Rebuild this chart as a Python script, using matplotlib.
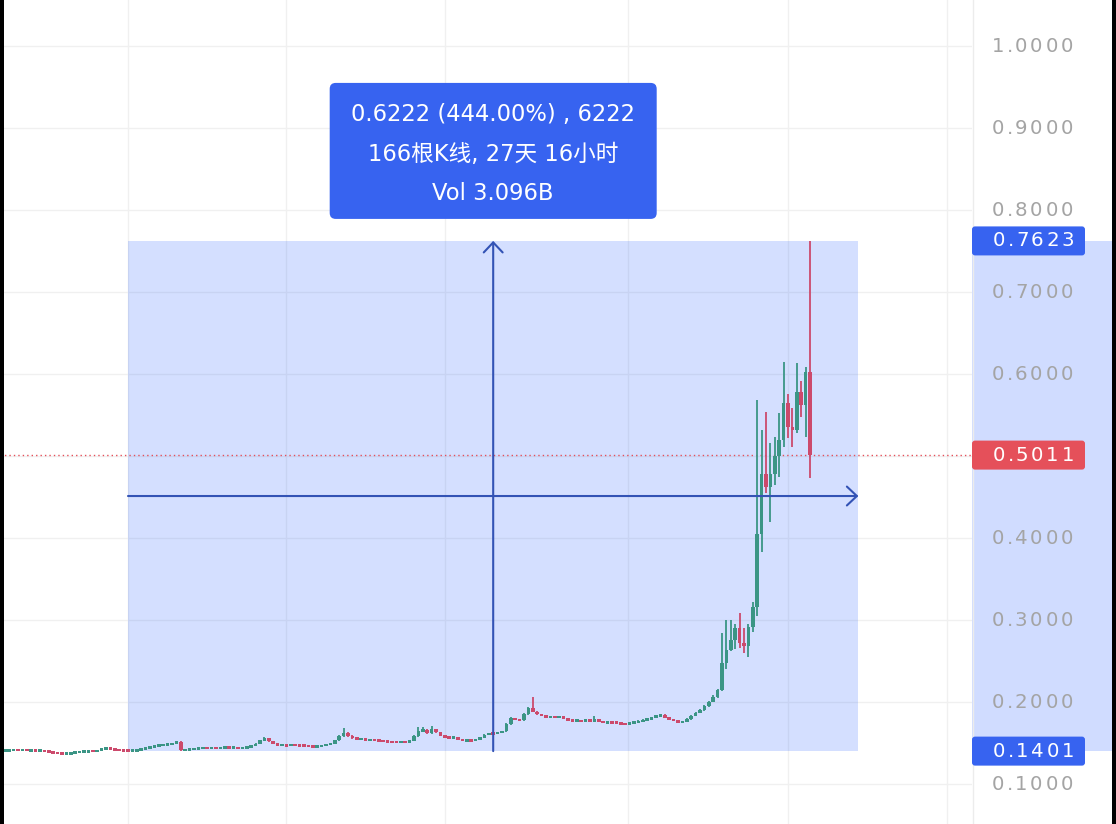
import matplotlib
matplotlib.use("Agg")
import matplotlib.pyplot as plt
from matplotlib.patches import Rectangle, FancyBboxPatch
import numpy as np

# ---------------- data: 4h candles ----------------
opens = [
    0.1408, 0.1410, 0.1413, 0.1416, 0.1411, 0.1419, 0.1408, 0.1410, 0.1405, 0.1408,
    0.1399, 0.1390, 0.1381, 0.1372, 0.1366, 0.1372, 0.1379, 0.1388, 0.1394, 0.1398,
    0.1402, 0.1400, 0.1409, 0.1429, 0.1441, 0.1426, 0.1418, 0.1411, 0.1407, 0.1404,
    0.1406, 0.1414, 0.1426, 0.1439, 0.1451, 0.1462, 0.1470, 0.1479, 0.1486, 0.1491,
    0.1515, 0.1412, 0.1421, 0.1426, 0.1431, 0.1438, 0.1441, 0.1436, 0.1441, 0.1435,
    0.1440, 0.1446, 0.1440, 0.1443, 0.1436, 0.1445, 0.1451, 0.1463, 0.1491, 0.1531,
    0.1556, 0.1521, 0.1491, 0.1471, 0.1476, 0.1470, 0.1478, 0.1472, 0.1468, 0.1465,
    0.1462, 0.1458, 0.1461, 0.1469, 0.1479, 0.1492, 0.1531, 0.1582, 0.1621, 0.1586,
    0.1561, 0.1546, 0.1549, 0.1536, 0.1541, 0.1531, 0.1528, 0.1521, 0.1516, 0.1512,
    0.1508, 0.1515, 0.1510, 0.1526, 0.1581, 0.1641, 0.1661, 0.1621, 0.1666, 0.1631,
    0.1591, 0.1571, 0.1561, 0.1566, 0.1541, 0.1531, 0.1536, 0.1532, 0.1546, 0.1566,
    0.1601, 0.1616, 0.1611, 0.1631, 0.1641, 0.1731, 0.1801, 0.1786, 0.1776, 0.1851,
    0.1921, 0.1881, 0.1851, 0.1831, 0.1816, 0.1821, 0.1812, 0.1821, 0.1796, 0.1781,
    0.1771, 0.1773, 0.1768, 0.1776, 0.1770, 0.1786, 0.1766, 0.1751, 0.1753, 0.1748,
    0.1745, 0.1736, 0.1731, 0.1746, 0.1753, 0.1761, 0.1776, 0.1791, 0.1806, 0.1836,
    0.1841, 0.1811, 0.1791, 0.1771, 0.1751, 0.1761, 0.1791, 0.1831, 0.1871, 0.1901,
    0.1951, 0.2001, 0.2061, 0.2141, 0.2471, 0.2631, 0.2761, 0.2901, 0.2721, 0.2681,
    0.2911, 0.3161, 0.4051, 0.4781, 0.4621, 0.4781, 0.5001, 0.5201, 0.5651, 0.5351,
    0.5321, 0.5781, 0.5621, 0.6021,
]
highs = [
    0.1418, 0.1420, 0.1424, 0.1421, 0.1430, 0.1423, 0.1417, 0.1414, 0.1415, 0.1412,
    0.1404, 0.1395, 0.1387, 0.1378, 0.1379, 0.1386, 0.1394, 0.1400, 0.1404, 0.1409,
    0.1408, 0.1416, 0.1440, 0.1452, 0.1446, 0.1430, 0.1422, 0.1415, 0.1412, 0.1413,
    0.1420, 0.1432, 0.1445, 0.1458, 0.1470, 0.1478, 0.1488, 0.1494, 0.1500, 0.1524,
    0.1520, 0.1428, 0.1433, 0.1438, 0.1444, 0.1448, 0.1446, 0.1447, 0.1445, 0.1446,
    0.1453, 0.1450, 0.1449, 0.1447, 0.1451, 0.1458, 0.1470, 0.1500, 0.1542, 0.1572,
    0.1561, 0.1526, 0.1496, 0.1483, 0.1481, 0.1485, 0.1482, 0.1478, 0.1473, 0.1470,
    0.1467, 0.1467, 0.1475, 0.1486, 0.1500, 0.1542, 0.1600, 0.1680, 0.1630, 0.1592,
    0.1567, 0.1556, 0.1553, 0.1548, 0.1545, 0.1536, 0.1533, 0.1526, 0.1521, 0.1517,
    0.1521, 0.1519, 0.1533, 0.1600, 0.1690, 0.1700, 0.1672, 0.1702, 0.1675, 0.1638,
    0.1597, 0.1577, 0.1574, 0.1570, 0.1546, 0.1543, 0.1541, 0.1552, 0.1574, 0.1612,
    0.1625, 0.1622, 0.1640, 0.1652, 0.1745, 0.1815, 0.1808, 0.1792, 0.1862, 0.1935,
    0.2065, 0.1890, 0.1858, 0.1838, 0.1828, 0.1826, 0.1828, 0.1825, 0.1801, 0.1786,
    0.1779, 0.1777, 0.1782, 0.1780, 0.1825, 0.1790, 0.1771, 0.1759, 0.1757, 0.1753,
    0.1750, 0.1741, 0.1753, 0.1762, 0.1775, 0.1788, 0.1800, 0.1815, 0.1845, 0.1852,
    0.1848, 0.1817, 0.1797, 0.1776, 0.1768, 0.1800, 0.1840, 0.1882, 0.1912, 0.1962,
    0.2015, 0.2080, 0.2160, 0.2840, 0.3000, 0.3000, 0.2950, 0.3085, 0.2900, 0.2950,
    0.3220, 0.5680, 0.5320, 0.5540, 0.5160, 0.5230, 0.5520, 0.6150, 0.5760, 0.5590,
    0.6130, 0.5920, 0.6080, 0.7623,
]
lows = [
    0.1402, 0.1405, 0.1408, 0.1404, 0.1406, 0.1401, 0.1402, 0.1398, 0.1400, 0.1392,
    0.1384, 0.1375, 0.1366, 0.1359, 0.1361, 0.1367, 0.1374, 0.1383, 0.1389, 0.1393,
    0.1394, 0.1396, 0.1405, 0.1424, 0.1420, 0.1412, 0.1406, 0.1402, 0.1401, 0.1401,
    0.1403, 0.1410, 0.1421, 0.1434, 0.1446, 0.1457, 0.1465, 0.1474, 0.1480, 0.1486,
    0.1402, 0.1406, 0.1415, 0.1420, 0.1426, 0.1433, 0.1430, 0.1431, 0.1429, 0.1430,
    0.1435, 0.1434, 0.1435, 0.1430, 0.1431, 0.1440, 0.1446, 0.1458, 0.1486, 0.1524,
    0.1514, 0.1485, 0.1465, 0.1466, 0.1464, 0.1465, 0.1466, 0.1462, 0.1459, 0.1456,
    0.1452, 0.1453, 0.1456, 0.1464, 0.1474, 0.1487, 0.1525, 0.1575, 0.1578, 0.1554,
    0.1540, 0.1540, 0.1530, 0.1531, 0.1525, 0.1522, 0.1515, 0.1510, 0.1506, 0.1502,
    0.1503, 0.1504, 0.1505, 0.1520, 0.1575, 0.1634, 0.1612, 0.1615, 0.1622, 0.1584,
    0.1564, 0.1554, 0.1555, 0.1534, 0.1524, 0.1526, 0.1526, 0.1527, 0.1541, 0.1561,
    0.1594, 0.1604, 0.1605, 0.1624, 0.1636, 0.1724, 0.1778, 0.1768, 0.1771, 0.1845,
    0.1872, 0.1843, 0.1824, 0.1808, 0.1810, 0.1805, 0.1806, 0.1789, 0.1775, 0.1765,
    0.1765, 0.1762, 0.1763, 0.1764, 0.1765, 0.1760, 0.1745, 0.1745, 0.1742, 0.1739,
    0.1729, 0.1724, 0.1726, 0.1740, 0.1748, 0.1755, 0.1770, 0.1785, 0.1800, 0.1830,
    0.1804, 0.1784, 0.1764, 0.1744, 0.1745, 0.1756, 0.1785, 0.1825, 0.1864, 0.1895,
    0.1944, 0.1995, 0.2054, 0.2130, 0.2400, 0.2620, 0.2650, 0.2660, 0.2600, 0.2550,
    0.2850, 0.3050, 0.3830, 0.4550, 0.4200, 0.4650, 0.4740, 0.5110, 0.5220, 0.5110,
    0.5280, 0.5480, 0.5230, 0.4730,
]
closes = [
    0.1410, 0.1413, 0.1416, 0.1411, 0.1419, 0.1408, 0.1410, 0.1405, 0.1408, 0.1399,
    0.1390, 0.1381, 0.1372, 0.1366, 0.1372, 0.1379, 0.1388, 0.1394, 0.1398, 0.1402,
    0.1400, 0.1409, 0.1429, 0.1441, 0.1426, 0.1418, 0.1411, 0.1407, 0.1404, 0.1406,
    0.1414, 0.1426, 0.1439, 0.1451, 0.1462, 0.1470, 0.1479, 0.1486, 0.1491, 0.1515,
    0.1412, 0.1421, 0.1426, 0.1431, 0.1438, 0.1441, 0.1436, 0.1441, 0.1435, 0.1440,
    0.1446, 0.1440, 0.1443, 0.1436, 0.1445, 0.1451, 0.1463, 0.1491, 0.1531, 0.1556,
    0.1521, 0.1491, 0.1471, 0.1476, 0.1470, 0.1478, 0.1472, 0.1468, 0.1465, 0.1462,
    0.1458, 0.1461, 0.1469, 0.1479, 0.1492, 0.1531, 0.1582, 0.1621, 0.1586, 0.1561,
    0.1546, 0.1549, 0.1536, 0.1541, 0.1531, 0.1528, 0.1521, 0.1516, 0.1512, 0.1508,
    0.1515, 0.1510, 0.1526, 0.1581, 0.1641, 0.1661, 0.1621, 0.1666, 0.1631, 0.1591,
    0.1571, 0.1561, 0.1566, 0.1541, 0.1531, 0.1536, 0.1532, 0.1546, 0.1566, 0.1601,
    0.1616, 0.1611, 0.1631, 0.1641, 0.1731, 0.1801, 0.1786, 0.1776, 0.1851, 0.1921,
    0.1881, 0.1851, 0.1831, 0.1816, 0.1821, 0.1812, 0.1821, 0.1796, 0.1781, 0.1771,
    0.1773, 0.1768, 0.1776, 0.1770, 0.1786, 0.1766, 0.1751, 0.1753, 0.1748, 0.1745,
    0.1736, 0.1731, 0.1746, 0.1753, 0.1761, 0.1776, 0.1791, 0.1806, 0.1836, 0.1841,
    0.1811, 0.1791, 0.1771, 0.1751, 0.1761, 0.1791, 0.1831, 0.1871, 0.1901, 0.1951,
    0.2001, 0.2061, 0.2141, 0.2471, 0.2631, 0.2761, 0.2901, 0.2721, 0.2681, 0.2911,
    0.3161, 0.4051, 0.4781, 0.4621, 0.4781, 0.5001, 0.5201, 0.5651, 0.5351, 0.5321,
    0.5781, 0.5621, 0.6021, 0.5011,
]

price_ticks = [0.1, 0.2, 0.3, 0.4, 0.5, 0.6, 0.7, 0.8, 0.9, 1.0]
time_grid = [28.0, 63.9, 100.0, 141.6, 178.0, 214.1]

range_start, range_end = 28, 194          # bar indices of the measured span
range_low, range_high = 0.1401, 0.7623
last_price = 0.5011
tooltip_lines = [
    "0.6222 (444.00%) , 6222",
    "166根K线, 27天 16小时",
    "Vol 3.096B",
]

# ---------------- styling ----------------
W, H, DPI = 1116, 824, 100
PLOT_W = 972
UP = "#3b9585"
DOWN = "#cc4a6c"
BLUE = "#3763f0"
RANGE = "#2962ff"
ARROW = "#3353b5"
GRID = "#f0f0f0"
LAST = "#e5505a"
AXTEXT = "#a4a4a4"

fig = plt.figure(figsize=(W / DPI, H / DPI), dpi=DPI)
fig.patch.set_facecolor("white")

ax = fig.add_axes([0, 0, PLOT_W / W, 1])
ax.set_xlim(-1.09, 219.82)
ax.set_ylim(0.05122, 1.05610)
ax.axis("off")

# scale helpers (data units per screen pixel)
x_per_px = (219.82 + 1.09) / PLOT_W
y_per_px = (1.05610 - 0.05122) / H

# grid
for p in price_ticks:
    ax.axhline(p, color=GRID, lw=1.0, zorder=0)
for t in time_grid:
    ax.axvline(t, color=GRID, lw=1.0, zorder=0)

# measured range
ax.add_patch(Rectangle((range_start, range_low), range_end - range_start,
                       range_high - range_low, facecolor=RANGE, alpha=0.2,
                       lw=0, zorder=1))

# last-price line
ax.axhline(last_price, color=LAST, lw=1.0, ls=(0, (1, 2.2)), zorder=2)

# candles
o = np.array(opens)
h = np.array(highs)
l = np.array(lows)
c = np.array(closes)
idx = np.arange(len(c))
cols = np.where(c >= o, UP, DOWN)
ax.vlines(idx, l, h, colors=cols, lw=1.3, zorder=3)
body_height = np.maximum(np.abs(c - o), 2.6 * y_per_px)
body_bottom = (o + c) / 2 - body_height / 2
ax.bar(idx, body_height, bottom=body_bottom, width=0.85, color=cols,
       lw=0, zorder=4)

# range arrows
mid_x = (range_start + range_end) / 2
mid_y = (range_low + range_high) / 2
arrow_kw = dict(arrowstyle="->,head_length=0.36,head_width=0.34",
                color=ARROW, lw=1.5, shrinkA=0, shrinkB=0, mutation_scale=20)
ax.annotate("", xy=(mid_x, range_high), xytext=(mid_x, range_low),
            arrowprops=arrow_kw, zorder=5)
ax.annotate("", xy=(range_end, mid_y), xytext=(range_start, mid_y),
            arrowprops=arrow_kw, zorder=5)

# tooltip
tip_w = 327 * x_per_px
tip_h = 136 * y_per_px
tip_bottom = range_high + 22 * y_per_px
ax.add_patch(FancyBboxPatch((mid_x - tip_w / 2, tip_bottom), tip_w, tip_h,
                            boxstyle=f"round,pad=0,rounding_size={6 * x_per_px}",
                            mutation_aspect=y_per_px / x_per_px,
                            facecolor=BLUE, lw=0, zorder=6))
for line, off in zip(tooltip_lines, [104, 64, 25]):
    ax.text(mid_x, tip_bottom + off * y_per_px, line, color="white",
            fontsize=16.3, ha="center", va="center", zorder=7,
            family=["DejaVu Sans", "Noto Sans CJK SC"])

# ---------------- price scale panel ----------------
axp = fig.add_axes([PLOT_W / W, 0, 1 - PLOT_W / W, 1])
axp.set_xlim(PLOT_W, W)
axp.set_ylim(ax.get_ylim())
axp.axis("off")
axp.axvline(PLOT_W + 0.5, color="#ececec", lw=1.0)
axp.add_patch(Rectangle((PLOT_W, range_low), W - 4 - PLOT_W,
                        range_high - range_low, facecolor=RANGE, alpha=0.22,
                        lw=0, zorder=1))


def spaced_label(axis, x0, y, s, color, size=14.2, z=3):
    """Draw a label one glyph at a time with wide tracking."""
    half = {".": 4.0}
    x = x0
    prev = None
    for ch in s:
        if prev is not None:
            x += half.get(prev, 7.6) + half.get(ch, 7.6)
        axis.text(x, y, ch, color=color, fontsize=size, ha="center",
                  va="center", zorder=z)
        prev = ch


for p in price_ticks:
    spaced_label(axp, 998, p, f"{p:.4f}", AXTEXT)

for p, col in [(range_high, BLUE), (last_price, LAST), (range_low, BLUE)]:
    axp.add_patch(FancyBboxPatch((PLOT_W, p - 14.5 * y_per_px), 113,
                                 29 * y_per_px,
                                 boxstyle="round,pad=0,rounding_size=3",
                                 mutation_aspect=y_per_px,
                                 facecolor=col, lw=0, zorder=4))
    spaced_label(axp, 999, p, f"{p:.4f}", "white", z=5)

# dark screen edges
fig.add_artist(Rectangle((0, 0), 4 / W, 1, transform=fig.transFigure,
                         facecolor="black", lw=0))
fig.add_artist(Rectangle((1 - 4 / W, 0), 4 / W, 1, transform=fig.transFigure,
                         facecolor="black", lw=0))

fig.savefig("out.png", dpi=DPI, facecolor="white")
